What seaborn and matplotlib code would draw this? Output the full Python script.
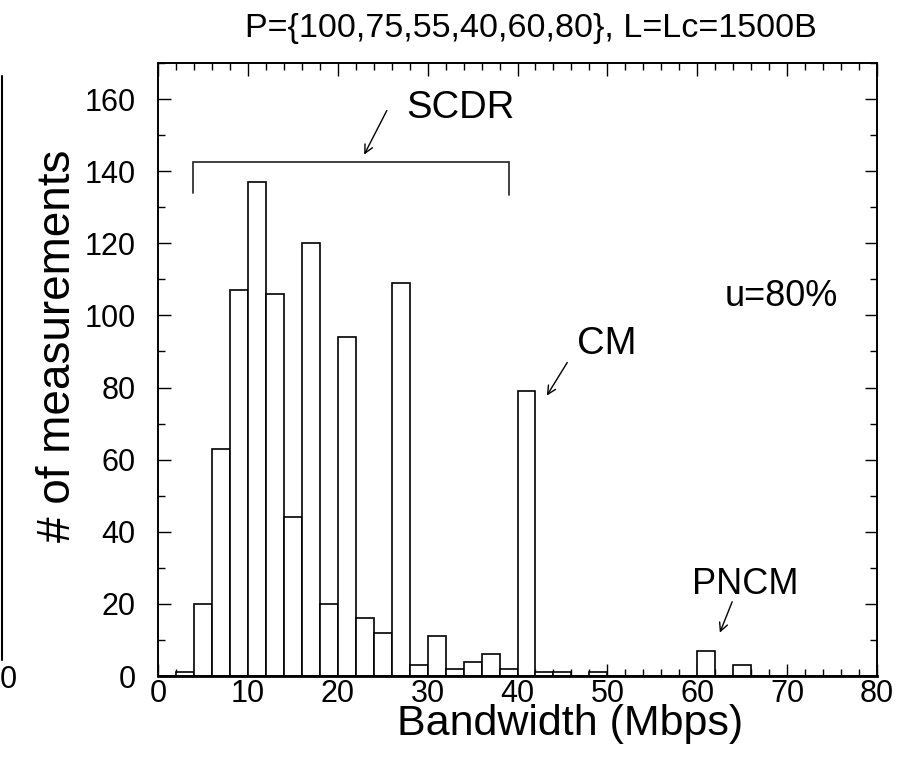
import numpy as np
import pandas as pd
import seaborn as sns
import matplotlib
matplotlib.use("Agg")
import matplotlib.pyplot as plt
from matplotlib.lines import Line2D
from matplotlib.ticker import MultipleLocator

# Histogram of bandwidth measurements, 2 Mbps bins
bin_left = list(range(0, 80, 2))
counts = [0, 1, 20, 63, 107, 137, 106, 44, 120, 20,
          94, 16, 12, 109, 3, 11, 2, 4, 6, 2,
          79, 1, 1, 0, 1, 0, 0, 0, 0, 0,
          7, 0, 3, 0, 0, 0, 0, 0, 0, 0]
bin_width = 2

x_ticks = [0, 10, 20, 30, 40, 50, 60, 70, 80]
y_ticks = [0, 20, 40, 60, 80, 100, 120, 140, 160]

title = "P={100,75,55,40,60,80}, L=Lc=1500B"
x_label = "Bandwidth (Mbps)"
y_label = "# of measurements"

sns.set_theme(style="ticks")
plt.rcParams["font.family"] = ["Liberation Sans", "DejaVu Sans"]

df = pd.DataFrame({"center": np.array(bin_left) + bin_width / 2, "count": counts})

fig = plt.figure(figsize=(9.06, 7.66), dpi=100)
ax = fig.add_axes([158 / 906, 1 - 676 / 766, (877 - 158) / 906, (676 - 63) / 766])

sns.histplot(data=df, x="center", weights="count", binwidth=bin_width,
             binrange=(0, 80), color="white", edgecolor="black",
             linewidth=1.2, alpha=1.0, ax=ax)

ax.set_xlim(0, 80)
ax.set_ylim(0, 170)
ax.set_xticks(x_ticks)
ax.set_yticks(y_ticks)
ax.xaxis.set_minor_locator(MultipleLocator(2))
ax.yaxis.set_minor_locator(MultipleLocator(10))
ax.tick_params(which="both", direction="in", top=True, right=True,
               color="black", width=1.0)
ax.tick_params(which="major", length=9, labelsize=22, labelcolor="black")
ax.tick_params(axis="x", which="major", pad=2)
ax.tick_params(axis="y", which="major", pad=16)
ax.tick_params(which="minor", length=5)
for s in ax.spines.values():
    s.set_color("black")
    s.set_linewidth(1.4)
ax.spines["bottom"].set_linewidth(2.0)

ax.set_xlabel(x_label, fontsize=31, color="black")
ax.set_ylabel(y_label, fontsize=33, color="black")
ax.xaxis.set_label_coords(0.573, -0.045)
ax.yaxis.set_label_coords(-0.108, 0.538)
fig.text(531 / 906, 1 - 28 / 766, title, fontsize=24.6, ha="center",
         va="center", color="black")

# SCDR bracket over the main cluster
ax.plot([3.85, 3.85, 39.0, 39.0], [134, 142.5, 142.5, 133.5],
        color="#333333", lw=1.3, solid_joinstyle="miter")

arrow = dict(arrowstyle="->", color="black", lw=1.0, mutation_scale=15)
ax.annotate("", xy=(22.8, 143.9), xytext=(25.6, 157.5), arrowprops=arrow)
ax.annotate("", xy=(43.1, 77.1), xytext=(45.7, 87.6), arrowprops=arrow)
ax.annotate("", xy=(62.4, 11.3), xytext=(64.0, 21.3), arrowprops=arrow)

ax.text(33.6, 157.4, "SCDR", fontsize=27.5, ha="center", va="center", color="black")
ax.text(49.9, 92.0, "CM", fontsize=27.5, ha="center", va="center", color="black")
ax.text(69.3, 105.2, "u=80%", fontsize=26, ha="center", va="center", color="black")
ax.text(65.3, 25.5, "PNCM", fontsize=26, ha="center", va="center", color="black")

# Edge of the neighbouring panel
fig.add_artist(Line2D([2 / 906, 2 / 906], [1 - 660 / 766, 1 - 76 / 766],
                      color="black", lw=1.5, transform=fig.transFigure))
fig.text(8 / 906, 1 - 680 / 766, "0", fontsize=22, ha="center", va="center",
         color="black")

fig.savefig("out.png", dpi=100)
